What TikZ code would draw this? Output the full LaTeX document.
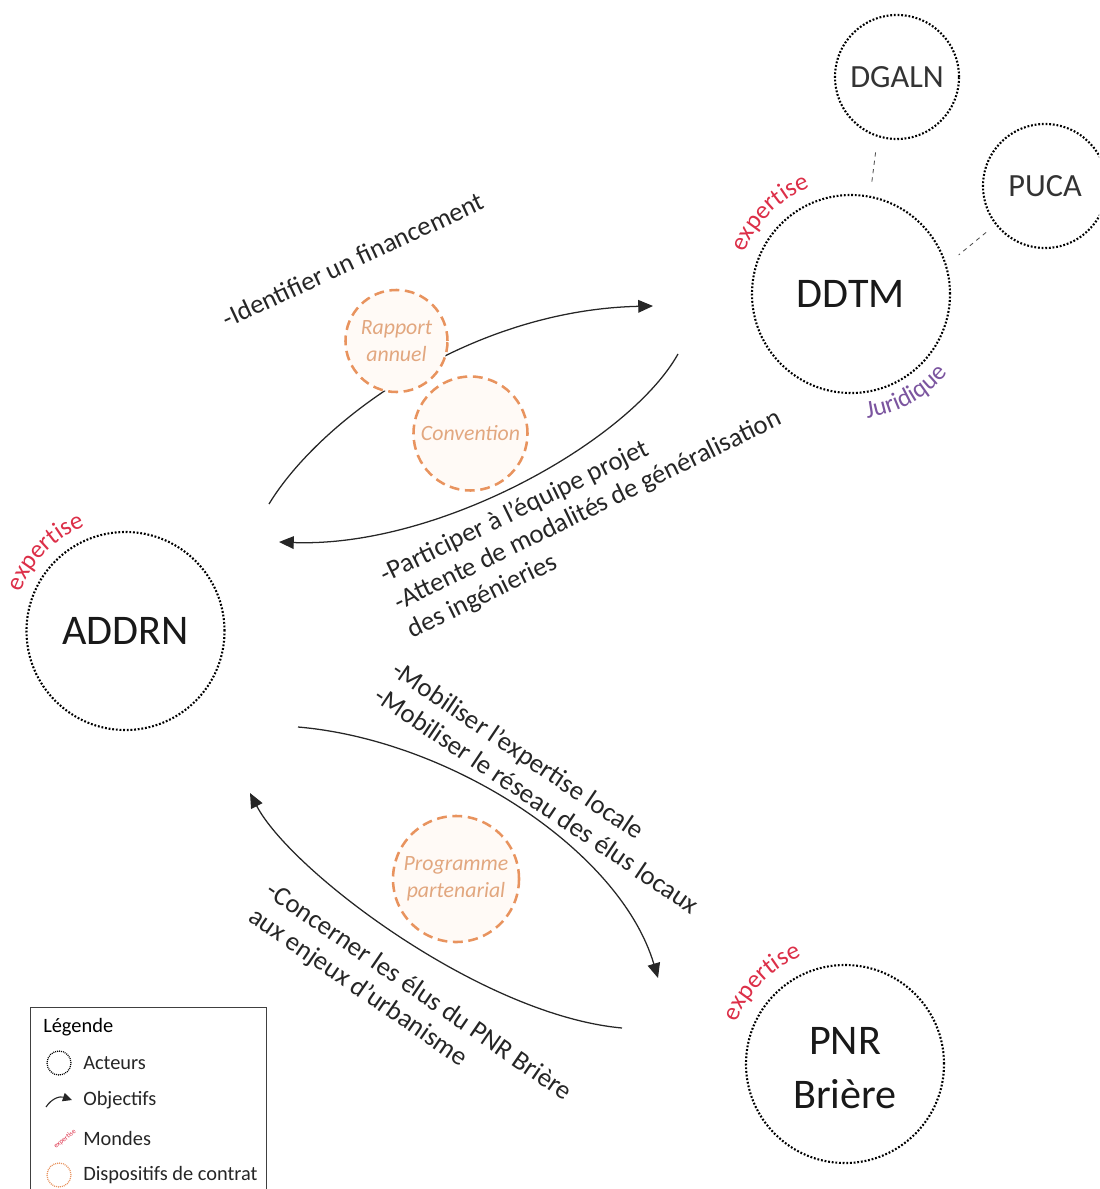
\documentclass[tikz,border=0pt]{standalone}
\usepackage{fontspec}
\setmainfont{Carlito}
\usetikzlibrary{arrows.meta, positioning, calc, decorations.text}

\definecolor{contratorange}{HTML}{E8935E}
\definecolor{contrattext}{HTML}{E2A77F}
\definecolor{contratfill}{HTML}{FFFAF6}
\definecolor{mondered}{HTML}{DC2F48}
\definecolor{mondepurple}{HTML}{7B559F}

\newcommand{\acteurfont}{\fontsize{30}{38}\selectfont}
\newcommand{\petitacteurfont}{\fontsize{23}{27}\selectfont}
\newcommand{\objectiffont}{\fontsize{19}{22}\selectfont}
\newcommand{\contratfont}{\fontsize{15.5}{19}\selectfont\itshape}
\newcommand{\legendefont}{\fontsize{14.5}{16}\selectfont}
\newcommand{\mondefont}{\fontsize{18}{18}\selectfont}

\begin{document}
\begin{tikzpicture}[
        x=0.025cm, y=0.025cm,
        acteur/.style={circle, draw=black, line width=1.5pt, dash pattern=on 1.3pt off 1.3pt, minimum size=4.95cm, inner sep=0pt, align=center, font=\acteurfont, text=black!90},
        petitacteur/.style={acteur, minimum size=3.1cm, font=\petitacteurfont, text=black!80},
        dispositif/.style={circle, draw=contratorange, fill=contratfill, line width=1.8pt, dash pattern=on 7pt off 4pt, inner sep=0pt, align=center, font=\contratfont, text=contrattext},
        objectif/.style={-{Triangle[length=10.5pt, width=9pt]}, draw=black!85, line width=0.9pt},
        lien/.style={dashed, draw=black!70, line width=0.6pt},
        consigne/.style={align=left, font=\objectiffont, text=black!85},
        legendeitem/.style={anchor=west, font=\legendefont, text=black!85, inner sep=0pt}
    ]
        \useasboundingbox (0,0) rectangle (1099,-1189);
        \clip (0,0) rectangle (1099,-1189);

        % acteurs
        \node[acteur] (addrn) at (125.5,-631) {ADDRN};
        \node[acteur] (ddtm) at (851,-294) {DDTM};
        \node[acteur] (pnr) at (845,-1064) {\vphantom{É}PNR\\Brière};
        \node[petitacteur] (dgaln) at (897,-77) {DGALN};
        \node[petitacteur] (puca) at (1045,-186) {PUCA};

        \draw[lien, shorten <=11pt, shorten >=10pt] (dgaln.252) -- (ddtm.79);
        \draw[lien, shorten <=8.5pt, shorten >=11pt] (puca.218) -- (ddtm.17);

        % mondes
        \path[decorate, decoration={text along path, text align=center, text={|\mondefont\color{mondered}|expertise}}]
            ($(addrn)+(165.5:112)$) arc[start angle=165.5, end angle=105.5, radius=112];
        \path[decorate, decoration={text along path, text align=center, text={|\mondefont\color{mondered}|expertise}}]
            ($(ddtm)+(165:114)$) arc[start angle=165, end angle=105, radius=114];
        \path[decorate, decoration={text along path, text align=center, text={|\mondefont\color{mondered}|expertise}}]
            ($(pnr)+(165.5:116)$) arc[start angle=165.5, end angle=105.5, radius=116];
        \path[decorate, decoration={text along path, text align=center, text={|\mondefont\color{mondepurple}|Juridique}}]
            ($(ddtm)+(-96:125)$) arc[start angle=-96, end angle=-26, radius=125];

        % objectifs
        \coordinate (o1a) at (269,-504);
        \coordinate (o1b) at (653,-306);
        \coordinate (o2a) at (678,-354);
        \coordinate (o2b) at (279,-542);
        \coordinate (o3a) at (298,-727);
        \coordinate (o3b) at (658,-978);
        \coordinate (o4a) at (622,-1028);
        \coordinate (o4b) at (250,-793);

        \draw[objectif] (o1a) .. controls (320,-420) and (470,-310) .. (o1b);
        \draw[objectif] (o2a) .. controls (630,-440) and (440,-548) .. (o2b);
        \draw[objectif] (o3a) .. controls (450,-740) and (620,-850) .. (o3b);
        \draw[objectif] (o4a) .. controls (480,-1015) and (290,-870) .. (o4b);

        \node[consigne, anchor=base, rotate=25] (financement) at (357,-268) {-Identifier un financement};
        \node[consigne, rotate=26] (equipe) at (588,-511) {-Participer à l’équipe projet\\-Attente de modalités de généralisation\\des ingénieries};
        \node[consigne, rotate=-34] (mobiliser) at (546,-787) {-Mobiliser l’expertise locale\\-Mobiliser le réseau des élus locaux};
        \node[consigne, rotate=-34.5] (concerner) at (410,-1005) {-Concerner les élus du PNR Brière\\ aux enjeux d’urbanisme};

        % dispositifs de contrat
        \node[dispositif, minimum size=2.55cm] (rapport) at (396.5,-341) {Rapport\\annuel};
        \node[dispositif, minimum size=2.85cm] (convention) at (470.5,-433.5) {Convention};
        \node[dispositif, minimum size=3.15cm] (programme) at (456,-879) {Programme\\partenarial};

        % legende
        \draw[draw=black!75, line width=0.6pt] (30,-1007) rectangle (266,-1200);
        \node[anchor=base west, font=\legendefont, text=black, inner sep=0pt] (legende) at (43,-1032) {Légende};
        \node[acteur, minimum size=0.6cm, line width=0.9pt, dash pattern=on 0.7pt off 0.7pt] (iconacteur) at (59,-1063) {};
        \node[legendeitem] (txtacteur) at (83,-1063) {Acteurs};
        \coordinate (iobja) at (46,-1107);
        \coordinate (iobjb) at (72,-1100);
        \draw[objectif, line width=0.8pt, -{Triangle[length=6.5pt, width=6pt]}] (iobja) .. controls (52,-1098) and (60,-1096) .. (iobjb);
        \node[legendeitem] (txtobjectif) at (83,-1100) {Objectifs};
        \node[rotate=40, font=\fontsize{5}{5}\selectfont, text=mondered, inner sep=0pt] (iconmonde) at (65,-1139) {expertise};
        \node[legendeitem] (txtmonde) at (83,-1138) {Mondes};
        \node[circle, draw=contratorange, line width=0.9pt, dash pattern=on 0.7pt off 0.7pt, minimum size=0.6cm] (iconcontrat) at (59,-1175) {};
        \node[legendeitem] (txtcontrat) at (83,-1175) {Dispositifs de contrat};
    \end{tikzpicture}
\end{document}
